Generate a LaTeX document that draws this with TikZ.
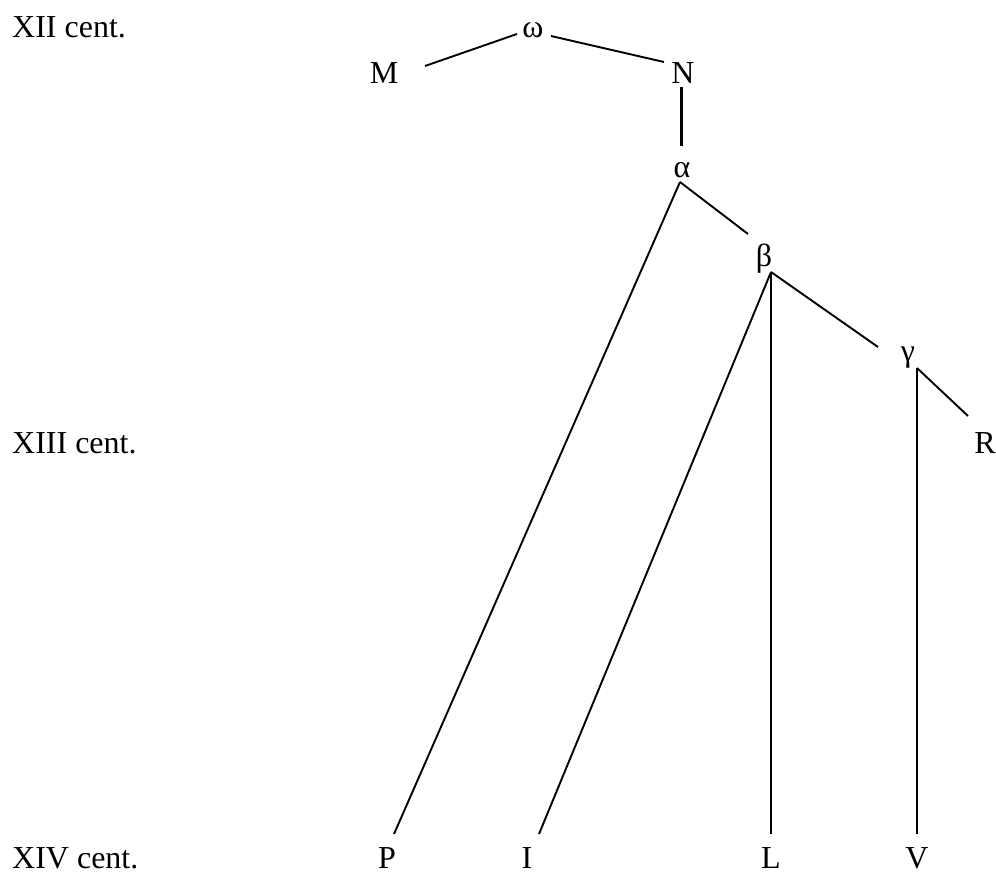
\documentclass[tikz,border=0pt]{standalone}
\usepackage{fontspec}
\setmainfont{Liberation Serif}
\begin{document}
\begin{tikzpicture}[x=1pt,y=-1pt,
  lbl/.style={inner sep=0pt,anchor=base,font=\fontsize{32}{38}\selectfont},
  cen/.style={lbl,anchor=base west},
  edge/.style={line width=1.9pt},
  thick edge/.style={line width=3pt}]
\useasboundingbox (0,0) rectangle (996,873);
\node[cen] (c12) at (12,37) {XII cent.};
\node[cen] (c13) at (12,453) {XIII cent.};
\node[cen] (c14) at (12,868) {XIV cent.};
\node[lbl] (omega) at (533,37) {ω};
\node[lbl] (M) at (384,83) {M};
\node[lbl] (N) at (683,83) {N};
\node[lbl] (alpha) at (682,177) {α};
\node[lbl] (beta) at (764,266) {β};
\node[lbl] (gamma) at (908,361) {γ};
\node[lbl] (R) at (985,453) {R};
\node[lbl] (P) at (387,868) {P};
\node[lbl] (I) at (527,868) {I};
\node[lbl] (L) at (771,868) {L};
\node[lbl] (V) at (917,868) {V};
\draw[edge] ([shift={(41,-17)}]M.base) -- ([shift={(-16,-3)}]omega.base);
\draw[edge] ([shift={(18,-1)}]omega.base) -- ([shift={(-19,-21)}]N.base);
\draw[thick edge] ([shift={(-2,4)}]N.base) -- ([shift={(-1,-31)}]alpha.base);
\draw[edge] ([shift={(-2,5)}]alpha.base) -- ([shift={(-16,-32)}]beta.base);
\draw[edge] ([shift={(-2,5)}]alpha.base) -- ([shift={(7,-34)}]P.base);
\draw[edge] ([shift={(7,6)}]beta.base) -- ([shift={(12,-34)}]I.base);
\draw[edge] ([shift={(7,6)}]beta.base) -- ([shift={(0,-34)}]L.base);
\draw[edge] ([shift={(7,6)}]beta.base) -- ([shift={(-30,-14)}]gamma.base);
\draw[edge] ([shift={(9,7)}]gamma.base) -- ([shift={(-17,-37)}]R.base);
\draw[edge] ([shift={(9,7)}]gamma.base) -- ([shift={(0,-34)}]V.base);
\end{tikzpicture}
\end{document}
